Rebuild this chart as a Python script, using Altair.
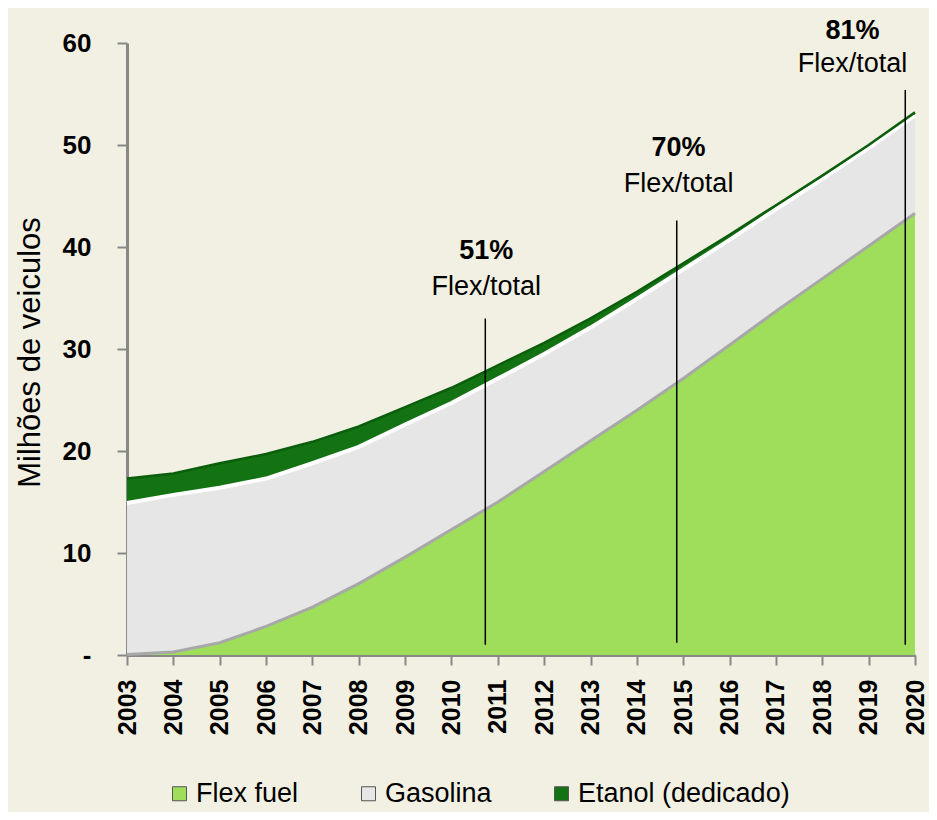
import altair as alt
import pandas as pd

years = list(range(2003, 2021))
flex = [0.05, 0.3, 1.2, 2.8, 4.7, 7.0, 9.6, 12.3, 15.0, 18.0, 21.0, 24.0, 27.1, 30.4, 33.7, 36.9, 40.1, 43.3]
gasolina = [14.85, 15.4, 15.2, 14.5, 14.1, 13.4, 13.0, 12.4, 12.1, 11.5, 11.1, 10.9, 10.7, 10.3, 10.0, 9.75, 9.6, 9.6]
etanol = [2.4, 2.1, 2.4, 2.4, 2.1, 2.0, 1.7, 1.5, 1.3, 1.1, 0.9, 0.7, 0.6, 0.5, 0.4, 0.35, 0.3, 0.3]

series = ["Flex fuel", "Gasolina", "Etanol (dedicado)"]
colors = ["#9EDE5A", "#E6E6E6", "#137313"]

# annotations
ann_x = [2010.73, 2014.86, 2019.79]
ann_ytop = [33.0, 42.6, 55.4]
ann_ybot = [1.0, 1.2, 1.0]
ann_pct = ["51%", "70%", "81%"]
ann_tx = [2010.75, 2014.9, 2018.65]
ann_pct_y = [39.6, 49.7, 61.2]
ann_lbl_y = [36.1, 46.2, 57.9]

rows = []
for i, y in enumerate(years):
    for k, (s, v) in enumerate(zip(series, [flex[i], gasolina[i], etanol[i]])):
        rows.append({"ano": y, "serie": s, "valor": v, "ordem": k})
df = pd.DataFrame(rows)
wide = pd.DataFrame({"ano": years, "flex": flex, "gas": gasolina, "eta": etanol})
ann = pd.DataFrame({"x": ann_x, "ytop": ann_ytop, "ybot": ann_ybot, "pct": ann_pct,
                    "tx": ann_tx, "py": ann_pct_y, "ly": ann_lbl_y})

xscale = alt.Scale(domain=[2003, 2020], nice=False, zero=False)
yscale = alt.Scale(domain=[0, 60], nice=False)

area = alt.Chart(df).mark_area(opacity=1).encode(
    x=alt.X("ano:Q", scale=xscale,
            axis=alt.Axis(values=years, format="d", labelAngle=-90, title=None,
                          labelFontSize=25, labelFontWeight="bold", labelFont="Liberation Sans",
                          labelColor="#000000", labelPadding=14, tickSize=10, tickWidth=2,
                          tickColor="#888888", domainColor="#888888", domainWidth=3,
                          grid=False, labelBaseline="middle")),
    y=alt.Y("valor:Q", stack="zero", scale=yscale,
            axis=alt.Axis(values=[0, 10, 20, 30, 40, 50, 60],
                          labelExpr="datum.value == 0 ? '-' : datum.label",
                          title="Milhões de veiculos", titleFontSize=31, titleFontWeight="normal",
                          titleFont="Liberation Sans", titleColor="#000000",
                          titleX=-97, titleY=309, titleAlign="center", titleBaseline="middle",
                          labelFontSize=26, labelFontWeight="bold", labelFont="Liberation Sans",
                          labelColor="#000000", labelPadding=26, tickSize=10, tickWidth=2,
                          tickColor="#888888", domainColor="#888888", domainWidth=3, grid=False)),
    color=alt.Color("serie:N", scale=alt.Scale(domain=series, range=colors),
                    sort=series,
                    legend=alt.Legend(title=None, orient="none", direction="horizontal",
                                      legendX=39, legendY=737, symbolType="square",
                                      symbolSize=196, symbolStrokeColor="#555555",
                                      symbolStrokeWidth=1, symbolOpacity=1,
                                      labelFontSize=27, labelFont="Liberation Sans",
                                      labelColor="#000000", labelOffset=3,
                                      columnPadding=56, labelLimit=400)),
    order=alt.Order("ordem:Q"),
)

gas_top = alt.Chart(wide).transform_calculate(top="datum.flex + datum.gas").mark_line(
    color="#FFFFFF", strokeWidth=4).encode(
    x=alt.X("ano:Q", scale=xscale), y=alt.Y("top:Q", scale=yscale))

flex_edge = alt.Chart(wide).mark_line(color="#A8A8A8", strokeWidth=3).encode(
    x=alt.X("ano:Q", scale=xscale), y=alt.Y("flex:Q", scale=yscale))

eta_edge = alt.Chart(wide).transform_calculate(top="datum.flex + datum.gas + datum.eta").mark_line(
    color="#0B5E0B", strokeWidth=2.5).encode(
    x=alt.X("ano:Q", scale=xscale), y=alt.Y("top:Q", scale=yscale))

rules = alt.Chart(ann).mark_rule(color="#000000", strokeWidth=1.5).encode(
    x=alt.X("x:Q", scale=xscale), y=alt.Y("ybot:Q", scale=yscale), y2="ytop:Q")

pct = alt.Chart(ann).mark_text(fontSize=27, fontWeight="bold", font="Liberation Sans",
                               color="#000000", baseline="middle").encode(
    x=alt.X("tx:Q", scale=xscale), y=alt.Y("py:Q", scale=yscale), text="pct:N")

lbl = alt.Chart(ann).mark_text(fontSize=27, font="Liberation Sans", color="#000000",
                               baseline="middle").encode(
    x=alt.X("tx:Q", scale=xscale), y=alt.Y("ly:Q", scale=yscale), text=alt.value("Flex/total"))

chart = alt.layer(area, flex_edge, gas_top, eta_edge, rules, pct, lbl).properties(
    width=788, height=612,
    autosize=alt.AutoSizeParams(type="none"),
    padding={"left": 119, "top": 35, "right": 14, "bottom": 157},
    background="#F2F0E2",
).configure_view(stroke=None)

chart.save("out.html", embed_options={"renderer": "svg", "actions": False})
